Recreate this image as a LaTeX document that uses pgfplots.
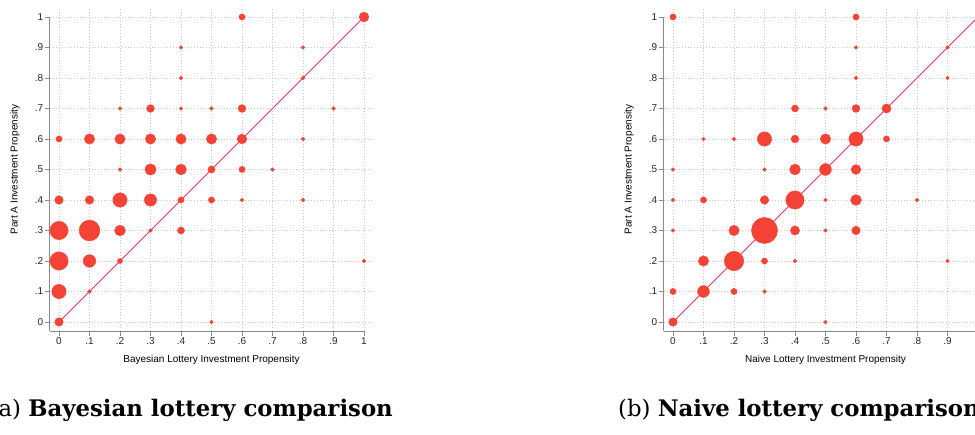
\documentclass[border=0pt]{standalone}
\usepackage{pgfplots}
\pgfplotsset{compat=1.18}
\usepackage{fontspec}
\setmainfont{Liberation Sans}
\newfontfamily\capfont{DejaVu Serif}
\definecolor{dotred}{HTML}{F44336}
\definecolor{linered}{HTML}{E8336E}
\definecolor{axgray}{HTML}{8A8A8A}
\definecolor{gridgray}{HTML}{C8C8C8}

\pgfplotstableread{
x y n
0.6 1.0 3
1.0 1.0 8
0.4 0.9 1
0.8 0.9 1
0.4 0.8 1
0.8 0.8 1
0.2 0.7 1
0.3 0.7 5
0.4 0.7 1
0.5 0.7 1
0.6 0.7 5
0.9 0.7 1
0.0 0.6 3
0.1 0.6 9
0.2 0.6 9
0.3 0.6 9
0.4 0.6 9
0.5 0.6 9
0.6 0.6 8
0.8 0.6 1
0.2 0.5 1
0.3 0.5 11
0.4 0.5 10
0.5 0.5 4
0.6 0.5 3
0.7 0.5 1
0.0 0.4 6
0.1 0.4 6
0.2 0.4 18
0.3 0.4 13
0.4 0.4 3
0.5 0.4 3
0.6 0.4 1
0.8 0.4 1
0.0 0.3 30
0.1 0.3 39
0.2 0.3 10
0.3 0.3 1
0.4 0.3 4
0.0 0.2 30
0.1 0.2 14
0.2 0.2 2
1.0 0.2 1
0.0 0.1 18
0.1 0.1 1
0.0 0.0 6
0.5 0.0 1
}\bayes

\pgfplotstableread{
x y n
0.0 1.0 3
0.6 1.0 3
0.6 0.9 1
0.9 0.9 1
0.6 0.8 1
0.9 0.8 1
0.4 0.7 4
0.5 0.7 1
0.6 0.7 5
0.7 0.7 7
0.1 0.6 1
0.2 0.6 1
0.3 0.6 18
0.4 0.6 5
0.5 0.6 9
0.6 0.6 18
0.7 0.6 3
0.0 0.5 1
0.3 0.5 1
0.4 0.5 10
0.5 0.5 12
0.6 0.5 8
0.0 0.4 1
0.1 0.4 3
0.3 0.4 6
0.4 0.4 30
0.5 0.4 1
0.6 0.4 10
0.8 0.4 1
0.0 0.3 1
0.2 0.3 9
0.3 0.3 62
0.4 0.3 7
0.5 0.3 1
0.6 0.3 6
0.1 0.2 9
0.2 0.2 34
0.3 0.2 3
0.4 0.2 1
0.9 0.2 1
0.0 0.1 3
0.1 0.1 12
0.2 0.1 3
0.3 0.1 1
0.0 0.0 6
0.5 0.0 1
}\naive

\pgfplotstableread{
x y
0 0
1 1
}\diag

\pgfplotsset{
  bubble/.style={
    width=323.3pt, height=323.3pt, scale only axis,
    xmin=-0.03, xmax=1.03, ymin=-0.03, ymax=1.03,
    clip=false,
    axis x line*=bottom, axis y line*=left,
    axis line style={draw=none},
    xtick={0,0.1,0.2,0.3,0.4,0.5,0.6,0.7,0.8,0.9,1},
    ytick={0,0.1,0.2,0.3,0.4,0.5,0.6,0.7,0.8,0.9,1},
    xticklabels={0,.1,.2,.3,.4,.5,.6,.7,.8,.9,1},
    yticklabels={0,.1,.2,.3,.4,.5,.6,.7,.8,.9,1},
    tick align=outside,
    major tick length=5pt,
    every tick/.style={draw=axgray, line width=0.8pt},
    tick label style={font=\fontsize{10}{12}\selectfont, text=black!85},
    xticklabel style={inner sep=1.5pt},
    yticklabel style={inner sep=1.5pt},
    grid=major,
    major grid style={draw=gridgray, line width=0.8pt, dash pattern=on 0.8pt off 2.2pt},
    label style={font=\fontsize{10}{12}\selectfont, text=black!85},
    every axis x label/.style={at={(axis description cs:0.5,-0.0897)}, anchor=center},
    every axis y label/.style={at={(axis description cs:-0.108,0.5)}, anchor=center, rotate=90},
  },
  bubbles/.style={
    scatter, only marks, mark=*,
    scatter/use mapped color={draw=dotred, fill=dotred},
    visualization depends on={0.3+1.62*sqrt(\thisrow{n}) \as \rad},
    visualization depends on={1-0.4^(\thisrow{n}) \as \op},
    scatter/@pre marker code/.append style={/tikz/mark size=\rad, /tikz/fill opacity=\op, /tikz/draw opacity=0},
  },
}

\begin{document}
\begin{tikzpicture}
\useasboundingbox (0pt,0pt) rectangle (975pt,434pt);
\clip (0pt,0pt) rectangle (975pt,434pt);

\begin{axis}[bubble, at={(49.85pt,102.85pt)}, anchor=south west,
  xlabel={Bayesian Lottery Investment Propensity},
  ylabel={Part A Investment Propensity}]
  \draw[axgray, line width=0.8pt] (axis cs:-0.03,-0.03) -- (axis cs:1,-0.03);
  \draw[axgray, line width=0.8pt] (axis cs:-0.03,-0.03) -- (axis cs:-0.03,1);
  \addplot[bubbles] table[x=x, y=y] {\bayes};
  \addplot[no marks, draw=linered, line width=1pt] table[x=x, y=y] {\diag};
\end{axis}

\begin{axis}[bubble, at={(663.85pt,102.85pt)}, anchor=south west,
  xticklabels={0,.1,.2,.3,.4,.5,.6,.7,.8,.9,{}},
  xlabel={Naive Lottery Investment Propensity},
  ylabel={Part A Investment Propensity}]
  \draw[axgray, line width=0.8pt] (axis cs:-0.03,-0.03) -- (axis cs:1,-0.03);
  \draw[axgray, line width=0.8pt] (axis cs:-0.03,-0.03) -- (axis cs:-0.03,1);
  \addplot[bubbles] table[x=x, y=y] {\naive};
  \addplot[no marks, draw=linered, line width=1pt] table[x=x, y=y] {\diag};
\end{axis}

\node[anchor=base east, inner sep=0pt, font=\capfont\fontsize{22.8}{26}\selectfont] at (393pt,17pt) {(a) \textbf{Bayesian lottery comparison}};
\node[anchor=base west, inner sep=0pt, font=\capfont\fontsize{22.8}{26}\selectfont] at (618pt,17pt) {(b) \textbf{Naive lottery comparison}};
\end{tikzpicture}
\end{document}
